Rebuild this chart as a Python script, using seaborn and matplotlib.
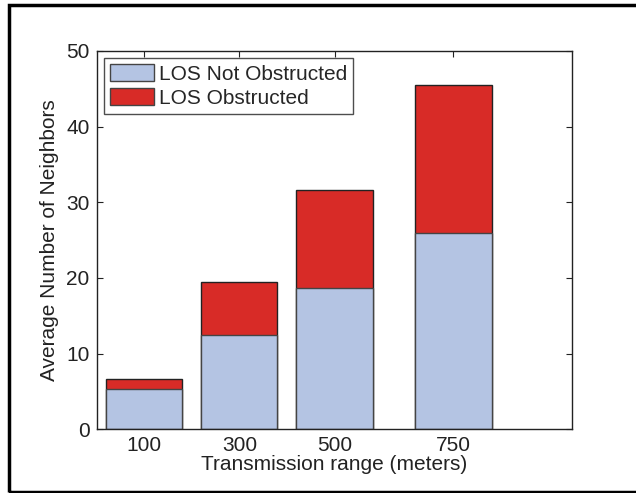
import numpy as np
import matplotlib
matplotlib.use('Agg')
import matplotlib.pyplot as plt
from matplotlib.patches import Rectangle, Patch
import seaborn as sns
import pandas as pd

sns.set_style('ticks')
plt.rcParams['font.family'] = ['Liberation Sans', 'DejaVu Sans']

# data
ranges = [100, 300, 500, 750]
not_obstructed = [5.4, 12.5, 18.7, 25.9]
obstructed = [1.3, 7.0, 12.9, 19.6]
labels = ['LOS Not Obstructed', 'LOS Obstructed']

blue = '#B4C4E3'
red = '#D82B27'

df = pd.DataFrame({'range': ranges,
                   'not_obs': not_obstructed,
                   'total': np.array(not_obstructed) + np.array(obstructed)})

fig = plt.figure(figsize=(6.36, 4.93), dpi=100)
ax = fig.add_axes([0.152, 0.129, 0.748, 0.768])

# stacked bars: total (red) underneath, not obstructed (blue) on top
sns.barplot(data=df, x='range', y='total', native_scale=True, color=red,
            saturation=1, edgecolor='#222222', linewidth=1, ax=ax)
sns.barplot(data=df, x='range', y='not_obs', native_scale=True, color=blue,
            saturation=1, edgecolor='#444444', linewidth=1, ax=ax)

ax.set_xlim(0, 1000)
ax.set_ylim(0, 50)
ax.set_xticks(ranges)
ax.set_xticklabels([str(r) for r in ranges])
ax.set_yticks(range(0, 51, 10))
ax.tick_params(direction='in', top=True, right=True, length=4, width=0.8,
               labelsize=15, colors='#222222', pad=5)
for s in ax.spines.values():
    s.set_linewidth(1)
    s.set_color('#222222')
ax.set_xlabel('Transmission range (meters)', fontsize=15, labelpad=0, color='#222222')
ax.set_ylabel('Average Number of Neighbors', fontsize=15, labelpad=5, color='#222222')

handles = [Patch(facecolor=blue, edgecolor='#444444', label=labels[0]),
           Patch(facecolor=red, edgecolor='#444444', label=labels[1])]
leg = ax.legend(handles=handles, loc='upper left', fontsize=15, frameon=True,
                fancybox=False, edgecolor='#222222', borderaxespad=0.33,
                handlelength=2.1, handleheight=0.9, handletextpad=0.25,
                labelspacing=0.2, borderpad=0.3)
leg.get_frame().set_linewidth(1)

# outer frame around the whole figure (right side runs off the image)
fig.patches.append(Rectangle((0.0134, 0.003), 1.0, 0.986, transform=fig.transFigure,
                             fill=False, edgecolor='black', linewidth=2.5))

fig.savefig('out.png', dpi=100)
